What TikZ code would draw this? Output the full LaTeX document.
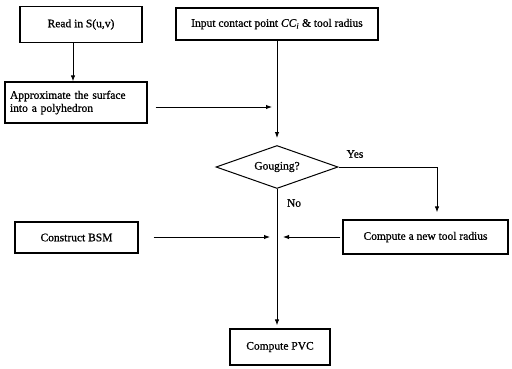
\documentclass[tikz,border=0pt]{standalone}
\usepackage{fontspec}
\setmainfont{Liberation Serif}
\newfontfamily\scanfont{Liberation Serif}[FakeBold=0.8]
\usetikzlibrary{shapes.geometric,arrows.meta}
\begin{document}
\begin{tikzpicture}[x=1pt,y=-1pt,
  every node/.style={font=\scanfont\fontsize{11.5}{13}\selectfont},
  box/.style={draw,line width=1.3pt,inner sep=2pt,align=center},
  dec/.style={draw,line width=1pt,shape=diamond,aspect=3,inner sep=0pt,minimum width=122pt,minimum height=43pt},
  conn/.style={line width=0.9pt},
  arr/.style={conn,-{Latex[length=6pt,width=4.5pt]}},
  lbl/.style={inner sep=0pt}]
\useasboundingbox (0,0) rectangle (512,368);
\node[box,minimum width=122pt,minimum height=36pt] (read) at (81,24.5) {Read in S(u,v)};
\node[box,minimum width=202pt,minimum height=32pt] (input) at (277,24) {Input contact point \textit{CC}\textsubscript{\textit{i}} \& tool radius};
\node[box,minimum width=142pt,minimum height=41pt,align=left,text width=132pt] (approx) at (76,102.5) {Approximate the surface\\into a polyhedron};
\node[dec] (goug) at (277,167) {Gouging?};
\node[box,minimum width=123pt,minimum height=31pt] (bsm) at (76.5,237.5) {Construct BSM};
\node[box,minimum width=165pt,minimum height=34pt] (newr) at (425.5,237) {Compute a new tool radius};
\node[box,minimum width=100pt,minimum height=36pt] (pvc) at (280,347) {Compute PVC};
\coordinate (j1) at (277,107);
\coordinate (j2) at (277,237);
\coordinate (yesx) at (437,167);
\node[lbl] (yes) at (355,154) {Yes};
\node[lbl] (no) at (294,203) {No};
% connectors
\draw[arr] (read.south -| 73,0) -- (approx.north -| 73,0);
\draw[arr,shorten >=7pt] (input.south) -- (goug.north);
\draw[arr,shorten <=8pt,shorten >=5pt] (approx.east |- j1) -- (j1);
\draw[arr,shorten <=15pt,shorten >=7pt] (bsm.east |- j2) -- (j2);
\draw[arr,shorten <=2pt,shorten >=6pt] (newr.west |- j2) -- (j2);
\draw[arr,shorten >=7pt] (goug.east) -- (yesx) -- (yesx |- newr.north);
\draw[arr,shorten >=3pt] (goug.south) -- (goug.south |- pvc.north);
\end{tikzpicture}
\end{document}
